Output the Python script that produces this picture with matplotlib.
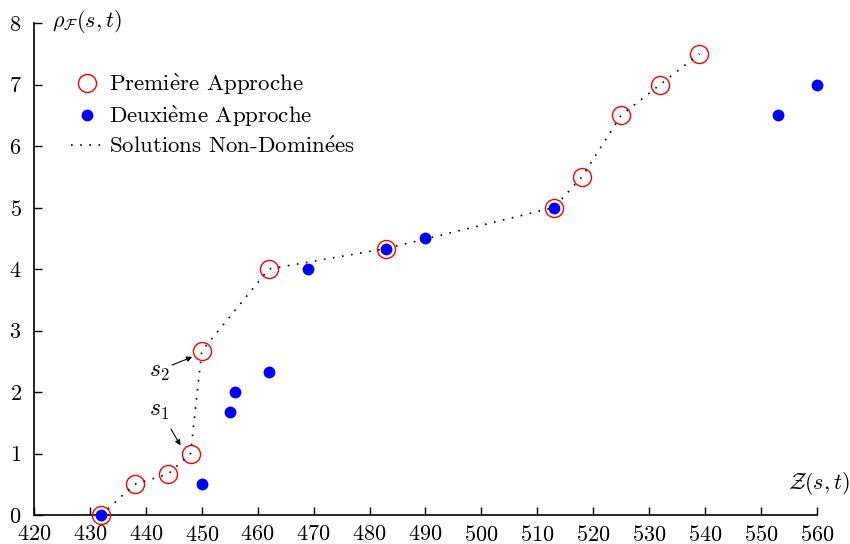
import numpy as np
import matplotlib
matplotlib.use("Agg")
import matplotlib.pyplot as plt

# Computer Modern look (cmr10 has no accented letters, so accents go through mathtext)
plt.rcParams['font.family'] = ['cmr10', 'DejaVu Serif']
plt.rcParams['mathtext.fontset'] = 'cm'
plt.rcParams['axes.formatter.use_mathtext'] = True

# Premiere approche (red circles), also the non-dominated front
z1 = [432, 438, 444, 448, 450, 462, 483, 513, 518, 525, 532, 539]
rho1 = [0, 0.5, 0.667, 1, 2.667, 4, 4.333, 5, 5.5, 6.5, 7, 7.5]

# Deuxieme approche (blue dots)
z2 = [432, 450, 455, 456, 462, 469, 483, 490, 513, 553, 560]
rho2 = [0, 0.5, 1.667, 2, 2.333, 4, 4.333, 4.5, 5, 6.5, 7]

xticks = list(range(420, 561, 10))
yticks = list(range(0, 9))

labels = [r'Premi$\grave{\mathrm{e}}$re Approche',
          r'Deuxi$\grave{\mathrm{e}}$me Approche',
          r'Solutions Non-Domin$\acute{\mathrm{e}}$es']

fig = plt.figure(figsize=(8.5, 5.44), dpi=100)
ax = fig.add_axes([0.04, 0.0533, 0.921, 0.9044])

ax.plot(z1, rho1, linestyle='none', marker='o', markersize=13, markerfacecolor='none',
        markeredgecolor='red', markeredgewidth=1.0, label=labels[0], clip_on=False,
        zorder=3)
ax.plot(z2, rho2, linestyle='none', marker='o', markersize=7.5, color='blue',
        label=labels[1], clip_on=False, zorder=4)
ax.plot(z1, rho1, linestyle=(0, (1, 4.5)), color='black', lw=1.2, label=labels[2],
        clip_on=False, zorder=5)

# annotations s1, s2
ax.annotate(r'$s_2$', xy=(448.3, 2.57), xytext=(440.5, 2.33), fontsize=17,
            ha='left', va='center',
            arrowprops=dict(arrowstyle='-|>', color='black', lw=0.8, mutation_scale=8,
                            shrinkA=0, shrinkB=0, relpos=(1.0, 0.75)))
ax.annotate(r'$s_1$', xy=(446.2, 1.13), xytext=(440.5, 1.7), fontsize=17,
            ha='left', va='center',
            arrowprops=dict(arrowstyle='-|>', color='black', lw=0.8, mutation_scale=8,
                            shrinkA=4, shrinkB=0, relpos=(0.9, 0.0)))

ax.set_xlim(420, 560)
ax.set_ylim(0, 8)
ax.set_xticks(xticks)
ax.set_yticks(yticks)
ax.tick_params(direction='in', length=6, width=1, labelsize=16)
ax.tick_params(axis='x', pad=7)
ax.tick_params(axis='y', pad=9)
ax.spines['top'].set_visible(False)
ax.spines['right'].set_visible(False)
ax.spines['left'].set_linewidth(1.2)
ax.spines['bottom'].set_linewidth(1.2)

ax.text(423.3, 8.02, r'$\rho_{\mathcal{F}}(s,t)$', fontsize=16, ha='left', va='center',
        clip_on=False)
ax.text(565.8, 0.52, r'$\mathcal{Z}(s,t)$', fontsize=16, ha='right', va='center',
        clip_on=False)

ax.legend(loc='upper left', bbox_to_anchor=(0.036, 0.919), frameon=False, fontsize=16.5,
          handlelength=1.4, handletextpad=0.23, labelspacing=0.3, borderaxespad=0)

fig.savefig('out.png', dpi=100)
